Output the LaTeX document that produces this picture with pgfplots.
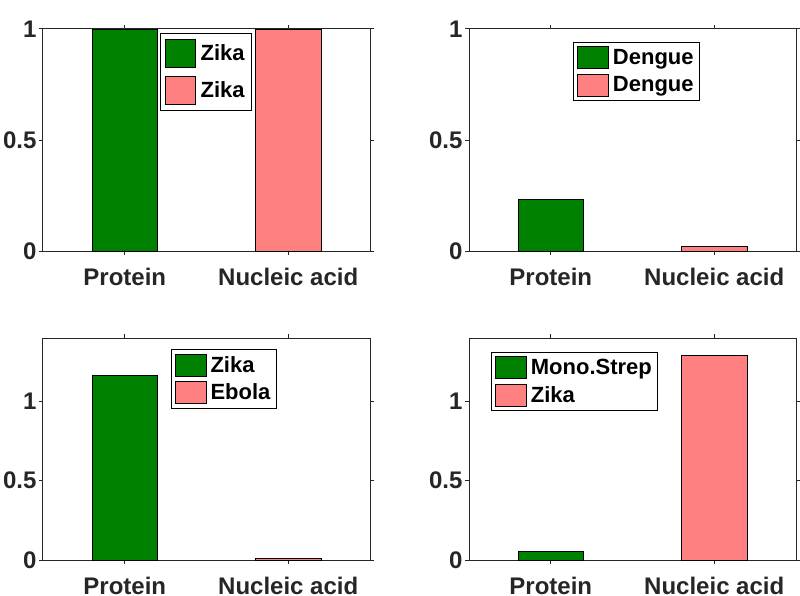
\documentclass[border=0pt]{standalone}
\usepackage{pgfplots}
\pgfplotsset{compat=1.18}
\usepackage{fontspec}
\setmainfont{Liberation Sans}
\definecolor{bargreen}{RGB}{0,128,0}
\definecolor{barpink}{RGB}{255,128,128}
\definecolor{axgray}{RGB}{38,38,38}
\pgfplotsset{
  panel/.style={
    scale only axis, width=327pt, height=222pt,
    xmin=0.5, xmax=2.5, ymin=0,
    xtick={1,2}, xticklabels={Protein,Nucleic acid},
    tick align=outside, major tick length=4pt,
    axis line style={draw=axgray, line width=1pt},
    tick style={draw=axgray, line width=1pt},
    ticklabel style={font=\fontsize{24}{28}\selectfont\bfseries, text=axgray},
    xticklabel style={yshift=-10pt},
    yticklabel style={xshift=1pt},
    legend cell align=left,
    legend style={anchor=north west, draw=black, line width=0.8pt, fill=white,
      inner xsep=4pt, inner ysep=4pt, row sep=5pt, column sep=2.5pt,
      font=\fontsize{22}{26}\selectfont\bfseries, text=black,
      nodes={inner sep=1.5pt}},
  },
  gbarA/.style={ybar, bar width=0.4, bar shift=0pt, fill=bargreen, draw=black, line width=0.6pt,
    legend image code/.code={\draw[fill=bargreen, draw=black, line width=0.6pt] (0pt,-14pt) rectangle (30pt,14pt);}},
  pbarA/.style={ybar, bar width=0.4, bar shift=0pt, fill=barpink, draw=black, line width=0.6pt,
    legend image code/.code={\draw[fill=barpink, draw=black, line width=0.6pt] (0pt,-14pt) rectangle (30pt,14pt);}},
  gbar/.style={ybar, bar width=0.4, bar shift=0pt, fill=bargreen, draw=black, line width=0.6pt,
    legend image code/.code={\draw[fill=bargreen, draw=black, line width=0.6pt] (0pt,-11pt) rectangle (31pt,11pt);}},
  pbar/.style={ybar, bar width=0.4, bar shift=0pt, fill=barpink, draw=black, line width=0.6pt,
    legend image code/.code={\draw[fill=barpink, draw=black, line width=0.6pt] (0pt,-11pt) rectangle (31pt,11pt);}},
}
\begin{document}
\begin{tikzpicture}[x=1pt,y=1pt]
\path[use as bounding box] (0,0) rectangle (800,-596);
% top left
\begin{axis}[panel, at={(43pt,-251pt)}, anchor=south west,
  ymax=1, ytick={0,0.5,1}, yticklabels={0,0.5,1},
  legend style={at={(0.358,0.982)}, inner xsep=5pt, inner ysep=6pt, row sep=8pt, column sep=3pt}]
\addplot[gbarA] coordinates {(1,1)};
\addlegendentry{Zika}
\addplot[pbarA] coordinates {(2,1)};
\addlegendentry{Zika}
\end{axis}
% top right
\begin{axis}[panel, at={(469pt,-251pt)}, anchor=south west,
  ymax=1, ytick={0,0.5,1}, yticklabels={0,0.5,1},
  legend style={at={(0.318,0.943)}}]
\addplot[gbar] coordinates {(1,0.233)};
\addlegendentry{Dengue}
\addplot[pbar] coordinates {(2,0.022)};
\addlegendentry{Dengue}
\end{axis}
% bottom left
\begin{axis}[panel, at={(43pt,-560pt)}, anchor=south west,
  ymax=1.4, ytick={0,0.5,1}, yticklabels={0,0.5,1},
  legend style={at={(0.390,0.949)}}]
\addplot[gbar] coordinates {(1,1.163)};
\addlegendentry{Zika}
\addplot[pbar] coordinates {(2,0.012)};
\addlegendentry{Ebola}
\end{axis}
% bottom right
\begin{axis}[panel, at={(469pt,-560pt)}, anchor=south west,
  ymax=1.4, ytick={0,0.5,1}, yticklabels={0,0.5,1},
  legend style={at={(0.067,0.938)}}]
\addplot[gbar] coordinates {(1,0.055)};
\addlegendentry{Mono.Strep}
\addplot[pbar] coordinates {(2,1.29)};
\addlegendentry{Zika}
\end{axis}
\end{tikzpicture}
\end{document}
